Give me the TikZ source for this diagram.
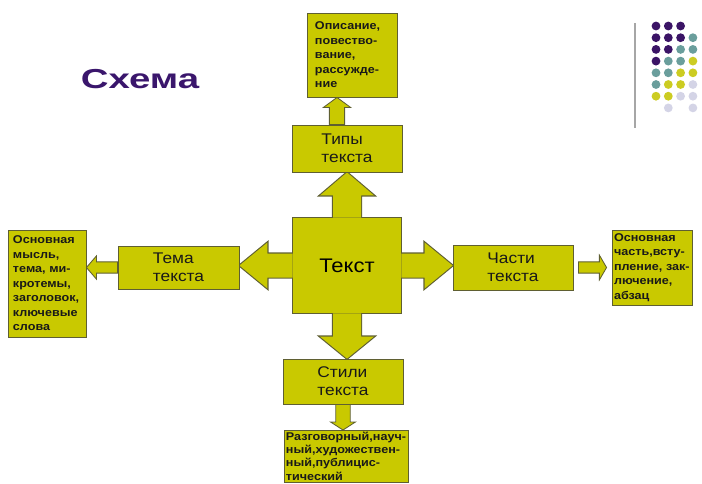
\documentclass[tikz,border=0pt]{standalone}
\usepackage{fontspec}
\setmainfont{Liberation Sans}[FakeStretch=1.12]
\newfontfamily\titlefont{Liberation Sans}[FakeStretch=1.4]
\usetikzlibrary{calc,backgrounds}

\definecolor{boxfill}{RGB}{201,201,0}
\definecolor{boxline}{RGB}{95,95,50}
\definecolor{titlecol}{RGB}{58,22,108}
\definecolor{dP}{RGB}{59,20,102}
\definecolor{dT}{RGB}{106,158,156}
\definecolor{dY}{RGB}{204,204,34}
\definecolor{dL}{RGB}{212,212,230}

\newcommand{\blockarrow}[6]{%
  \path ($(#3)!#6!(#2)$) coordinate (ba);
  \path[#1] ($(#2)!#4!90:(#3)$) -- ($(ba)!#4!90:(#3)$) -- ($(ba)!#5!90:(#3)$)
    -- (#3) -- ($(ba)!#5!-90:(#3)$) -- ($(ba)!#4!-90:(#3)$)
    -- ($(#2)!#4!-90:(#3)$) -- cycle;
}

\tikzset{
  box/.style={draw=boxline, fill=boxfill, line width=0.6pt, text=black!90},
  midbox/.style={box, align=left, font=\fontsize{11}{12.7}\selectfont},
  infobox/.style={box, align=left, inner ysep=0.05cm,
    font=\fontsize{8}{10.3}\selectfont\bfseries},
  passline/.style={draw=boxline, line width=1.6pt},
  passfill/.style={fill=boxfill},
  smallarr/.style={draw=boxline, fill=boxfill, line width=0.6pt},
}

\begin{document}
\begin{tikzpicture}[x=0.025cm, y=-0.025cm]
    \useasboundingbox (0,0) rectangle (702,483);
    \clip (0,0) rectangle (702,483);

    \node[text=titlecol, font={\titlefont\bfseries\fontsize{19.5}{22}\selectfont}]
	(schema) at (140,79) {Схема};

    \draw[gray!70, line width=1.4pt] (635,23) -- (635,128);
    \foreach \r/\cl in {0/{dP,dP,dP},1/{dP,dP,dP,dT},2/{dP,dP,dT,dT},
	3/{dP,dT,dT,dY},4/{dT,dT,dY,dY},5/{dT,dY,dY,dL},6/{dY,dY,dL,dL},
	7/{white,dL,white,dL}}
	\foreach \k [count=\c from 0] in \cl
	    \fill[\k] (656+12.3*\c, 26+11.7*\r) circle[radius=0.11cm];

    \node[infobox, minimum width=2.25cm, minimum height=2.1cm,
	text width=1.85cm, inner xsep=0.2cm] (opis) at (352,55)
	{Описание,\\ повество-\\вание,\\рассужде-\\ние};
    \node[midbox, minimum width=2.75cm, minimum height=1.175cm]
	(typy) at (347,148.5) {Типы\\текста};
    \node[font=\fontsize{14}{16}\selectfont, minimum width=2.7cm,
	minimum height=2.375cm] (tekst) at (347,265.5) {Текст};
    \node[midbox, minimum width=3.025cm, minimum height=1.075cm]
	(tema) at (178.5,267.5) {Тема\\текста};
    \node[infobox, minimum width=1.95cm, minimum height=2.675cm,
	text width=1.7cm, inner xsep=0.125cm] (temainfo) at (47,283.5)
	{Основная\\мысль,\\тема, ми-\\кротемы,\\заголовок,\\ключевые\\слова};
    \node[midbox, minimum width=3cm, minimum height=1.125cm]
	(chasti) at (513,267.5) {Части\\текста};
    \node[infobox, minimum width=2cm, minimum height=1.875cm,
	text width=1.9cm, inner xsep=0.05cm] (chastiinfo) at (652,267.5)
	{Основная\\часть,всту-\\пление, зак-\\лючение,\\абзац};
    \node[infobox, anchor=north, minimum width=3.1cm,
	inner xsep=0.05cm, font=\fontsize{8}{9.3}\selectfont\bfseries]
	(stiliinfo) at (346,430)
	{Разговорный,науч-\\ный,художествен-\\ный,публицис-\\тический};
    \node[midbox, minimum width=3cm, minimum height=1.125cm]
	(stili) at (343,381.5) {Стили\\текста};

    \begin{scope}[on background layer]
	\foreach \p in {passline,passfill} {
	    \path[\p] (tekst.south west) rectangle (tekst.north east);
	    \blockarrow{\p}{tekst.north}{tekst.north |- typy.south}{0.35cm}{0.675cm}{0.575cm}
	    \blockarrow{\p}{tekst.south}{tekst.south |- stili.north}{0.35cm}{0.675cm}{0.55cm}
	    \blockarrow{\p}{tekst.west}{tekst.west -| tema.east}{0.3cm}{0.575cm}{0.7cm}
	    \blockarrow{\p}{tekst.east}{tekst.east -| chasti.west}{0.3cm}{0.575cm}{0.7cm}
	}
    \end{scope}

    \coordinate (opisfrom) at ($(typy.north)+(-10,0)$);
    \coordinate (opisto) at (opisfrom |- opis.south);
    \blockarrow{smallarr}{opisfrom}{opisto}{0.19cm}{0.34cm}{0.25cm}
    \blockarrow{smallarr}{tema.west}{tema.west -| temainfo.east}{0.14cm}{0.29cm}{0.25cm}
    \coordinate (chastifrom) at ($(chasti.east)+(5,0)$);
    \coordinate (chastito) at ($(chasti.east -| chastiinfo.west)+(-5,0)$);
    \blockarrow{smallarr}{chastifrom}{chastito}{0.14cm}{0.31cm}{0.18cm}
    \blockarrow{smallarr}{stili.south}{stili.south |- stiliinfo.north}{0.18cm}{0.31cm}{0.2cm}
\end{tikzpicture}
\end{document}
